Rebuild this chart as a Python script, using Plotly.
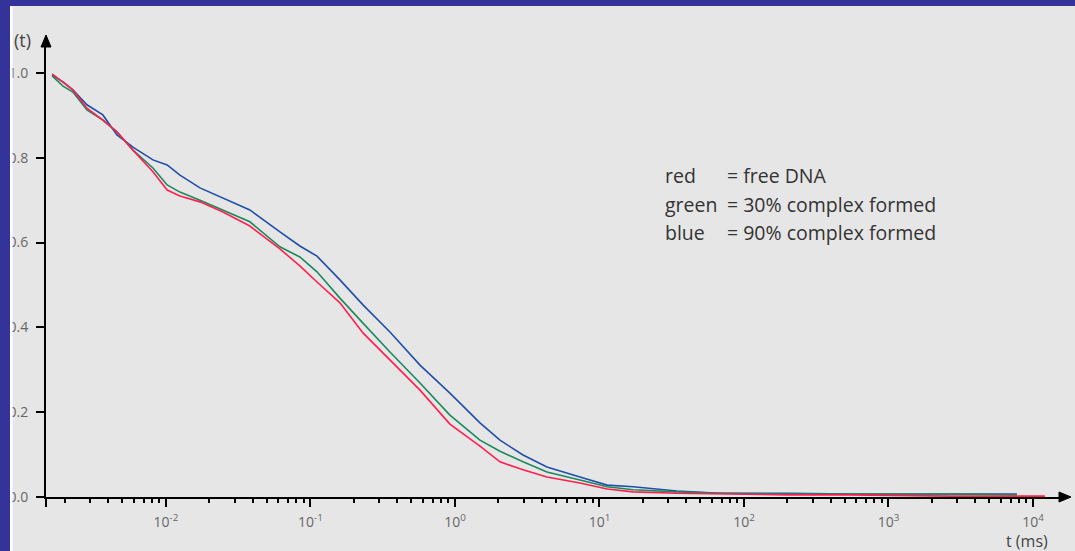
import plotly.graph_objects as go

# ---- data ----
t_ms = [0.00163, 0.00194, 0.00227, 0.00284, 0.00366, 0.00458, 0.00591, 0.00813,
        0.0102, 0.0125, 0.0172, 0.0248, 0.0381, 0.0615, 0.0845, 0.111, 0.160,
        0.231, 0.355, 0.573, 0.923, 1.49, 2.05, 2.96, 4.33, 7.33, 11.3, 17.1,
        34.4, 68.2, 199, 542, 2670, 7740, 12100]

g_red = [0.998, 0.979, 0.960, 0.917, 0.889, 0.861, 0.818, 0.767, 0.724, 0.710,
         0.696, 0.672, 0.639, 0.585, 0.545, 0.507, 0.458, 0.387, 0.323, 0.252,
         0.172, 0.120, 0.083, 0.064, 0.047, 0.033, 0.019, 0.012, 0.009, 0.007,
         0.005, 0.005, 0.002, 0.002, 0.002]

g_green = [0.993, 0.969, 0.955, 0.913, 0.889, 0.861, 0.818, 0.776, 0.736, 0.719,
           0.700, 0.677, 0.649, 0.590, 0.566, 0.531, 0.469, 0.410, 0.342, 0.269,
           0.193, 0.134, 0.108, 0.083, 0.059, 0.040, 0.024, 0.017, 0.012, 0.009,
           0.007, 0.007, 0.007, 0.005]

g_blue = [0.995, 0.979, 0.960, 0.925, 0.901, 0.854, 0.825, 0.795, 0.783, 0.759,
          0.729, 0.705, 0.677, 0.625, 0.592, 0.568, 0.512, 0.453, 0.389, 0.311,
          0.245, 0.175, 0.134, 0.099, 0.071, 0.047, 0.028, 0.024, 0.014, 0.009,
          0.009, 0.007, 0.007, 0.007]

x_major = [0.01, 0.1, 1, 10, 100, 1000, 10000]
x_major_text = ["10<sup>-2</sup>", "10<sup>-1</sup>", "10<sup>0</sup>", "10<sup>1</sup>",
                "10<sup>2</sup>", "10<sup>3</sup>", "10<sup>4</sup>"]
y_ticks = [0.0, 0.2, 0.4, 0.6, 0.8, 1.0]
y_ticktext = ["0.0", "0.2", "0.4", "0.6", "0.8", "1.0"]

legend_names = ["red", "green", "blue"]
legend_desc = ["= free DNA", "= 30% complex formed", "= 90% complex formed"]

# ---- layout geometry ----
W, H = 1075, 551
ML, MR, MT, MB = 46, 13, 42, 54
PW, PH = W - ML - MR, H - MT - MB

def px(x):
    return (x - ML) / PW

def py(y):
    return (H - MB - y) / PH

minor_vals = []
for d in [0.001, 0.01, 0.1, 1, 10, 100, 1000, 10000]:
    for k in range(2, 10):
        minor_vals.append(d * k)

fig = go.Figure()
fig.add_trace(go.Scatter(x=t_ms[:len(g_blue)], y=g_blue, mode="lines",
                         line=dict(color="#1f4fa8", width=1.6), name="blue"))
fig.add_trace(go.Scatter(x=t_ms[:len(g_green)], y=g_green, mode="lines",
                         line=dict(color="#1a8a5e", width=1.6), name="green"))
fig.add_trace(go.Scatter(x=t_ms, y=g_red, mode="lines",
                         line=dict(color="#ff1f4f", width=1.6), name="red"))

axis_font = dict(family="Open Sans, sans-serif", size=14, color="#666666")

fig.update_layout(
    width=W, height=H,
    margin=dict(l=ML, r=MR, t=MT, b=MB, pad=0, autoexpand=False),
    paper_bgcolor="#e6e6e6", plot_bgcolor="#e6e6e6",
    showlegend=False,
    xaxis=dict(type="log", range=[-2.830, 4.201], showgrid=False, zeroline=False,
               automargin=False,
               showline=True, linecolor="black", linewidth=2,
               tickmode="array", tickvals=x_major, ticktext=x_major_text,
               ticks="outside", ticklen=8, tickwidth=1.5, tickcolor="black",
               tickfont=axis_font, ticklabelstandoff=3,
               minor=dict(tickmode="array", tickvals=minor_vals, ticks="outside",
                          ticklen=4, tickwidth=1.5, tickcolor="black", showgrid=False)),
    yaxis=dict(range=[0, 1.073], showgrid=False, zeroline=False,
               automargin=False,
               showline=True, linecolor="black", linewidth=2,
               tickmode="array", tickvals=y_ticks, ticktext=y_ticktext,
               ticks="outside", ticklen=8, tickwidth=1.5, tickcolor="black",
               tickfont=axis_font, ticklabelstandoff=5),
)

shapes = []
# axis arrows
shapes.append(dict(type="path", xref="paper", yref="paper", layer="above",
                   path=f"M {px(46)},{py(35)} L {px(41)},{py(47)} L {px(51)},{py(47)} Z",
                   fillcolor="black", line=dict(color="black", width=1)))
shapes.append(dict(type="path", xref="paper", yref="paper", layer="above",
                   path=f"M {px(1071)},{py(497)} L {px(1059)},{py(492)} L {px(1059)},{py(502)} Z",
                   fillcolor="black", line=dict(color="black", width=1)))
# y-axis line extending below origin
shapes.append(dict(type="line", xref="paper", yref="paper", layer="above",
                   x0=px(46), x1=px(46), y0=py(497), y1=py(507),
                   line=dict(color="black", width=2)))
# frame bands
shapes.append(dict(type="rect", xref="paper", yref="paper", layer="above",
                   x0=px(10), x1=px(12.5), y0=py(H), y1=py(0),
                   fillcolor="white", line=dict(width=0)))
shapes.append(dict(type="rect", xref="paper", yref="paper", layer="above",
                   x0=px(0), x1=px(10), y0=py(H), y1=py(0),
                   fillcolor="#333399", line=dict(width=0)))
shapes.append(dict(type="rect", xref="paper", yref="paper", layer="above",
                   x0=px(0), x1=px(W), y0=py(6), y1=py(0),
                   fillcolor="#333399", line=dict(width=0)))
fig.update_layout(shapes=shapes)

legend_font = dict(family="Open Sans, sans-serif", size=19.5, color="#333333")
ann = []
for i, (n, d) in enumerate(zip(legend_names, legend_desc)):
    yy = 176 + i * 28.5
    ann.append(dict(xref="paper", yref="paper", x=px(663), y=py(yy), text=n,
                    showarrow=False, xanchor="left", yanchor="middle", font=legend_font))
    ann.append(dict(xref="paper", yref="paper", x=px(725), y=py(yy), text=d,
                    showarrow=False, xanchor="left", yanchor="middle", font=legend_font))
ann.append(dict(xref="paper", yref="paper", x=px(12), y=py(40), text="(t)",
                showarrow=False, xanchor="left", yanchor="middle",
                font=dict(family="Open Sans, sans-serif", size=18, color="#444444")))
ann.append(dict(xref="paper", yref="paper", x=px(1050), y=py(541), text="t (ms)",
                showarrow=False, xanchor="right", yanchor="middle",
                font=dict(family="Open Sans, sans-serif", size=16, color="#444444")))
fig.update_layout(annotations=ann)

fig.write_html("out.html", config={"displayModeBar": False},
               post_script="document.body.style.margin='0px';document.body.style.overflow='hidden';")
